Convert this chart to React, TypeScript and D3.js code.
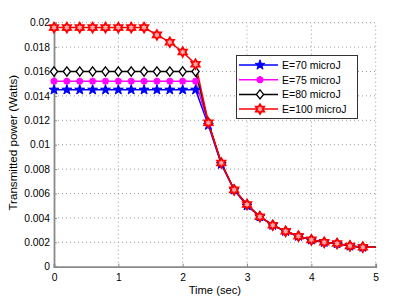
import React, { useEffect, useRef } from "react";
import * as d3 from "d3";

// time axis (sec)
const times = [0, 0.2, 0.4, 0.6, 0.8, 1.0, 1.2, 1.4, 1.6, 1.8, 2.0, 2.2, 2.4, 2.6, 2.8, 3.0, 3.2, 3.4, 3.6, 3.8, 4.0, 4.2, 4.4, 4.6, 4.8, 5.0];

// transmitted power (Watts) per energy level
const e70 = [0.0145, 0.0145, 0.0145, 0.0145, 0.0145, 0.0145, 0.0145, 0.0145, 0.0145, 0.0145, 0.0145, 0.0145, 0.0116, 0.0084, 0.0063, 0.0050, 0.0041, 0.0034, 0.0029, 0.0025, 0.0022, 0.0020, 0.0019, 0.0017, 0.0016, 0.0016];
const e75 = [0.0152, 0.0152, 0.0152, 0.0152, 0.0152, 0.0152, 0.0152, 0.0152, 0.0152, 0.0152, 0.0152, 0.0152, 0.0117, 0.0085, 0.0063, 0.0051, 0.0041, 0.0034, 0.0029, 0.0025, 0.0022, 0.0020, 0.0019, 0.0017, 0.0016, 0.0016];
const e80 = [0.0160, 0.0160, 0.0160, 0.0160, 0.0160, 0.0160, 0.0160, 0.0160, 0.0160, 0.0160, 0.0160, 0.0160, 0.0118, 0.0085, 0.0063, 0.0051, 0.0041, 0.0034, 0.0029, 0.0025, 0.0022, 0.0020, 0.0019, 0.0017, 0.0016, 0.0016];
const e100 = [0.0196, 0.0196, 0.0196, 0.0196, 0.0196, 0.0196, 0.0196, 0.0196, 0.0190, 0.0184, 0.0176, 0.0166, 0.0118, 0.0085, 0.0063, 0.0051, 0.0041, 0.0034, 0.0029, 0.0025, 0.0022, 0.0020, 0.0019, 0.0017, 0.0016, 0.0016];

const seriesNames = ["E=70 microJ", "E=75 microJ", "E=80 microJ", "E=100 microJ"];
const xTicks = [0, 1, 2, 3, 4, 5];
const yTicks = [0, 0.002, 0.004, 0.006, 0.008, 0.01, 0.012, 0.014, 0.016, 0.018, 0.02];

const FONT = "'Liberation Sans', Arial, Helvetica, sans-serif";

// custom marker paths, centered on 0,0
const starPath = (r: number) => {
  const pts: string[] = [];
  for (let i = 0; i < 10; i++) {
    const rr = i % 2 === 0 ? r : r * 0.4;
    const a = -Math.PI / 2 + (i * Math.PI) / 5;
    pts.push(`${rr * Math.cos(a)},${rr * Math.sin(a)}`);
  }
  return "M" + pts.join("L") + "Z";
};
const hexagramPath = (r: number) => {
  const pts: string[] = [];
  for (let i = 0; i < 12; i++) {
    const rr = i % 2 === 0 ? r : r * 0.58;
    const a = -Math.PI / 2 + (i * Math.PI) / 6;
    pts.push(`${rr * Math.cos(a)},${rr * Math.sin(a)}`);
  }
  return "M" + pts.join("L") + "Z";
};
const diamondPath = (w: number, h: number) => `M0,${-h}L${w},0L0,${h}L${-w},0Z`;
const asteriskPath = (r: number) => {
  const d = r * 0.7;
  return `M${-r},0L${r},0M0,${-r}L0,${r}M${-d},${-d}L${d},${d}M${-d},${d}L${d},${-d}`;
};

const series = [
  { name: seriesNames[0], values: e70, color: "#0000ff", marker: starPath(5.2), fill: "#0000ff", mw: 1 },
  { name: seriesNames[1], values: e75, color: "#ff00ff", marker: asteriskPath(3.6), fill: "none", mw: 2.2 },
  { name: seriesNames[2], values: e80, color: "#000000", marker: diamondPath(3.6, 4.6), fill: "#ffffff", mw: 1.3 },
  { name: seriesNames[3], values: e100, color: "#ff0000", marker: hexagramPath(4.8), fill: "#ffa8a8", mw: 1.8 },
];

const App = () => {
  const ref = useRef(null);

  useEffect(() => {
    const width = 415;
    const height = 300;
    const left = 54;
    const right = 375.7;
    const top = 22.7;
    const bottom = 266.7;

    const x = d3.scaleLinear().domain([0, 5]).range([left, right]);
    const y = d3.scaleLinear().domain([0, 0.02]).range([bottom, top]);

    const svg = d3.select(ref.current).attr("width", width).attr("height", height);
    svg.selectAll("*").remove();

    svg.append("rect").attr("width", width).attr("height", height).attr("fill", "#ffffff");

    // grid
    const grid = svg.append("g").attr("stroke", "#9a9a9a").attr("stroke-width", 1).attr("stroke-dasharray", "1,3");
    xTicks.slice(1).forEach((t) => {
      grid.append("line").attr("x1", x(t)).attr("x2", x(t)).attr("y1", bottom).attr("y2", top);
    });
    yTicks.slice(1).forEach((t) => {
      grid.append("line").attr("x1", left).attr("x2", right).attr("y1", y(t)).attr("y2", y(t));
    });

    // axes
    const yAxis = svg
      .append("g")
      .attr("transform", `translate(${left},0)`)
      .call(
        d3
          .axisLeft(y)
          .tickValues(yTicks)
          .tickSize(-3)
          .tickPadding(4)
          .tickFormat((d: any) => (d === 0 ? "0" : String(+(+d).toFixed(3))))
      );
    const xAxis = svg
      .append("g")
      .attr("transform", `translate(0,${bottom})`)
      .call(d3.axisBottom(x).tickValues(xTicks).tickSize(-3).tickPadding(7).tickFormat(d3.format("d")));

    [yAxis, xAxis].forEach((g) => {
      g.select(".domain").attr("stroke", "#8a8a8a").attr("stroke-width", 1.8);
      g.selectAll(".tick line").attr("stroke", "#8a8a8a");
      g.selectAll(".tick text").attr("fill", "#000").attr("font-family", FONT).attr("font-size", 10.3);
    });

    // series
    const line = d3
      .line<number>()
      .x((d, i) => x(times[i]))
      .y((d) => y(d));

    series.forEach((s) => {
      svg
        .append("path")
        .datum(s.values)
        .attr("fill", "none")
        .attr("stroke", s.color)
        .attr("stroke-width", 1.5)
        .attr("d", line);
    });
    series.forEach((s) => {
      svg
        .append("g")
        .selectAll("path")
        .data(s.values.slice(0, s.values.length - 1))
        .join("path")
        .attr("transform", (d, i) => `translate(${x(times[i])},${y(d)})`)
        .attr("d", s.marker)
        .attr("fill", s.fill)
        .attr("stroke", s.color)
        .attr("stroke-width", s.mw)
        .attr("stroke-linejoin", "miter");
    });

    // axis labels
    svg
      .append("text")
      .attr("x", (left + right) / 2)
      .attr("y", 294)
      .attr("text-anchor", "middle")
      .attr("font-family", FONT)
      .attr("font-size", 11.2)
      .text("Time (sec)");
    svg
      .append("text")
      .attr("transform", `translate(16.5,${(top + bottom) / 2 - 2}) rotate(-90)`)
      .attr("text-anchor", "middle")
      .attr("font-family", FONT)
      .attr("font-size", 11.6)
      .text("Transmitted power (Watts)");

    // legend
    const lg = svg.append("g");
    lg.append("rect")
      .attr("x", 236.5)
      .attr("y", 55.5)
      .attr("width", 121)
      .attr("height", 63)
      .attr("fill", "#ffffff")
      .attr("stroke", "#333")
      .attr("stroke-width", 1);
    series.forEach((s, i) => {
      const ly = 65 + i * 14.7;
      lg.append("line")
        .attr("x1", 239)
        .attr("x2", 278)
        .attr("y1", ly)
        .attr("y2", ly)
        .attr("stroke", s.color)
        .attr("stroke-width", 1.5);
      lg.append("path")
        .attr("transform", `translate(260,${ly})`)
        .attr("d", s.marker)
        .attr("fill", s.fill)
        .attr("stroke", s.color)
        .attr("stroke-width", s.mw);
      lg.append("text")
        .attr("x", 282)
        .attr("y", ly + 4)
        .attr("font-family", FONT)
        .attr("font-size", 10.5)
        .text(s.name);
    });
  }, []);

  return <svg ref={ref} style={{ position: "absolute", left: 0, top: 0 }}></svg>;
};

export default App;
